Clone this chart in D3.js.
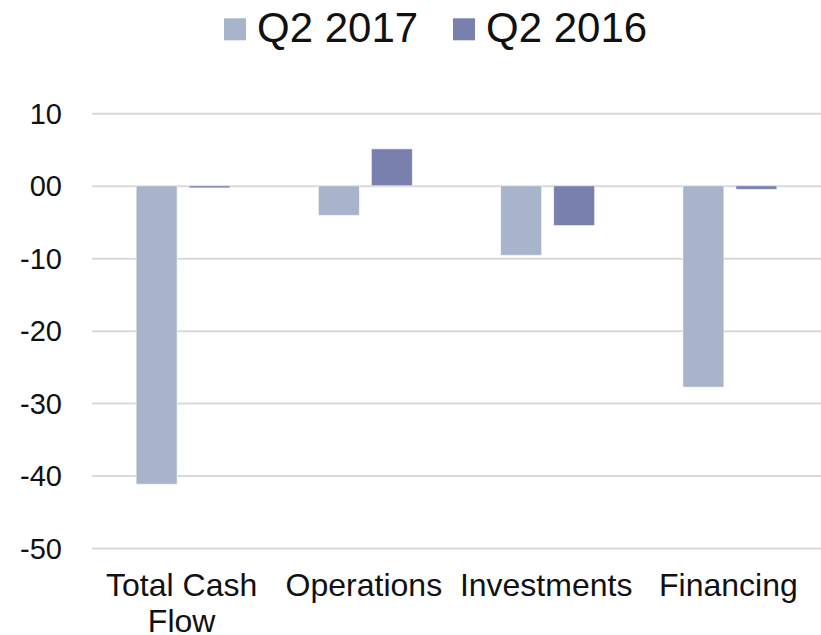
<!DOCTYPE html>
<html>
<head>
<meta charset="utf-8">
<script src="https://cdn.jsdelivr.net/npm/d3@7"></script>
<style>
  body { margin: 0; background: #fff; }
  svg text { font-family: "Liberation Sans", Arial, sans-serif; fill: #111; }
  .grid line { stroke: #d9d9d9; stroke-width: 2; }
  .grid .domain { display: none; }
</style>
</head>
<body>
<div id="chart"></div>
<script>
// data
const categories = [["Total Cash", "Flow"], ["Operations"], ["Investments"], ["Financing"]];
const seriesNames = ["Q2 2017", "Q2 2016"];
const q2_2017 = [-41.2, -4.1, -9.6, -27.8];
const q2_2016 = [-0.3, 5.1, -5.5, -0.5];
const tickValues = [10, 0, -10, -20, -30, -40, -50];
const tickLabels = ["10", "00", "-10", "-20", "-30", "-40", "-50"];
const colors = ["#a7b4cb", "#7a80ae"];

const chartWidth = 821, chartHeight = 635;
const plotLeft = 92, plotRight = 821, plotTop = 113.3, plotBottom = 548;

const svg = d3.select("#chart").append("svg")
  .attr("width", chartWidth)
  .attr("height", chartHeight);

const catKeys = categories.map(c => c.join(" "));

const y = d3.scaleLinear().domain([-50, 10]).range([plotBottom, plotTop]);
const x0 = d3.scaleBand().domain(catKeys).range([plotLeft, plotRight]);
const groupW = 94;
const x1 = d3.scaleBand().domain(seriesNames).range([0, groupW]).paddingInner(0.2264);

// gridlines + tick labels
const yAxis = d3.axisLeft(y)
  .tickValues(tickValues)
  .tickSize(-(plotRight - plotLeft))
  .tickPadding(30)
  .tickFormat((d, i) => tickLabels[i]);

svg.append("g")
  .attr("class", "grid")
  .attr("transform", "translate(" + plotLeft + ",0)")
  .call(yAxis)
  .selectAll("text")
    .attr("font-size", "29px")
    .attr("dy", "0.35em");

// bars
const rows = catKeys.map((k, i) => ({ key: k, values: [q2_2017[i], q2_2016[i]] }));

const groups = svg.append("g")
  .selectAll("g")
  .data(rows)
  .enter()
  .append("g")
  .attr("transform", d => "translate(" + (x0(d.key) + (x0.bandwidth() - groupW) / 2) + ",0)");

groups.selectAll("rect")
  .data(d => d.values.map((v, i) => ({ s: seriesNames[i], v: v, i: i })))
  .enter()
  .append("rect")
  .attr("x", d => x1(d.s))
  .attr("width", x1.bandwidth())
  .attr("y", d => y(Math.max(0, d.v)))
  .attr("height", d => Math.abs(y(d.v) - y(0)))
  .attr("fill", d => colors[d.i])
  .attr("stroke", "#fff")
  .attr("stroke-opacity", 0.6)
  .attr("stroke-width", 1);

// category labels (two lines for the first one)
const xAxis = d3.axisBottom(x0).tickSize(0).tickFormat("");
const xg = svg.append("g")
  .attr("transform", "translate(0," + plotBottom + ")")
  .call(xAxis);
xg.select(".domain").remove();

xg.selectAll(".tick")
  .append("text")
  .attr("text-anchor", "middle")
  .attr("font-size", "32px")
  .attr("y", 48)
  .each(function(d, i) {
    const lines = categories[i];
    d3.select(this).selectAll("tspan")
      .data(lines)
      .enter()
      .append("tspan")
      .attr("x", -1.5)
      .attr("dy", (l, j) => j === 0 ? 0 : 35.5)
      .text(l => l);
  });

// legend
const legendX = [224, 453];
const legend = svg.append("g");
seriesNames.forEach((s, i) => {
  legend.append("rect")
    .attr("x", legendX[i])
    .attr("y", 18.3)
    .attr("width", 22)
    .attr("height", 22)
    .attr("fill", colors[i]);
  legend.append("text")
    .attr("x", legendX[i] + 33)
    .attr("y", 42.3)
    .attr("font-size", "42px")
    .text(s);
});
</script>
</body>
</html>
